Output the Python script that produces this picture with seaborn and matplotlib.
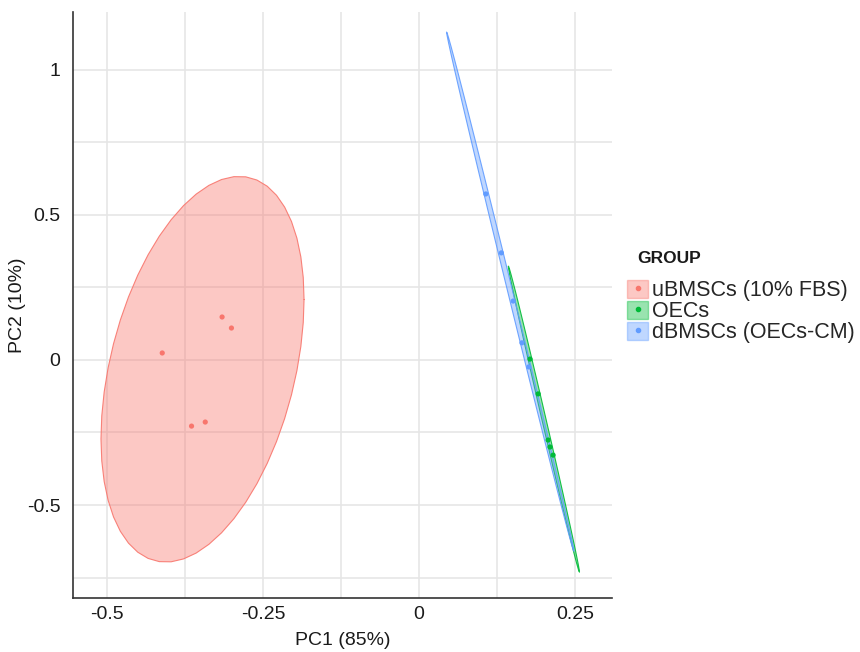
import matplotlib
matplotlib.use("Agg")
import matplotlib.pyplot as plt
import seaborn as sns
import pandas as pd
import numpy as np
from matplotlib.patches import Patch
from matplotlib.lines import Line2D
from matplotlib.ticker import MultipleLocator

# PCA scores
groups = ["uBMSCs (10% FBS)", "OECs", "dBMSCs (OECs-CM)"]
colors = ["#F8766D", "#00BA38", "#619CFF"]

pc1_ubmsc = [-0.316, -0.301, -0.412, -0.365, -0.343]
pc2_ubmsc = [0.148, 0.110, 0.024, -0.228, -0.214]

pc1_oec = [0.178, 0.191, 0.207, 0.210, 0.215]
pc2_oec = [0.003, -0.117, -0.276, -0.300, -0.328]

pc1_dbmsc = [0.107, 0.132, 0.151, 0.165, 0.176]
pc2_dbmsc = [0.572, 0.369, 0.203, 0.059, -0.024]

df = pd.DataFrame({
    "PC1": pc1_ubmsc + pc1_oec + pc1_dbmsc,
    "PC2": pc2_ubmsc + pc2_oec + pc2_dbmsc,
    "GROUP": [groups[0]] * 5 + [groups[1]] * 5 + [groups[2]] * 5,
})


def ellipse_points(x, y, level=0.95, segments=51):
    # 95% normal ellipse per group, as in stat_ellipse(type = "norm")
    pts = np.column_stack([x, y])
    n = len(pts)
    center = pts.mean(axis=0)
    cov = np.cov(pts, rowvar=False)
    d2 = n - 1
    fq = (d2 / 2) * ((1 - level) ** (-2 / d2) - 1)  # F(2, d2) quantile
    radius = np.sqrt(2 * fq)
    t = np.linspace(0, 2 * np.pi, segments)
    circle = np.column_stack([np.cos(t), np.sin(t)])
    chol = np.linalg.cholesky(cov)
    return center + radius * circle @ chol.T


sns.set_theme(style="white")
plt.rcParams["font.family"] = ["Liberation Sans", "DejaVu Sans"]

fig = plt.figure(figsize=(8.6, 6.52), dpi=100)
ax = fig.add_axes([0.085, 0.083, 0.627, 0.899])

for g, c in zip(groups, colors):
    sub = df[df["GROUP"] == g]
    e = ellipse_points(sub["PC1"].values, sub["PC2"].values)
    ax.fill(e[:, 0], e[:, 1], facecolor=c, alpha=0.4, edgecolor="none", zorder=2)
    ax.plot(e[:, 0], e[:, 1], color=c, lw=0.8, alpha=0.9, zorder=2)

sns.scatterplot(data=df, x="PC1", y="PC2", hue="GROUP", palette=colors,
                s=14, edgecolor="none", legend=False, ax=ax, zorder=3)

ax.set_xlim(-0.555, 0.31)
ax.set_ylim(-0.82, 1.2)
ax.xaxis.set_minor_locator(MultipleLocator(0.125))
ax.yaxis.set_minor_locator(MultipleLocator(0.25))
ax.set_xticks([-0.5, -0.25, 0, 0.25])
ax.set_xticklabels(["-0.5", "-0.25", "0", "0.25"])
ax.set_yticks([-0.5, 0, 0.5, 1])
ax.set_yticklabels(["-0.5", "0", "0.5", "1"])
ax.grid(which="major", color="#E6E6E6", lw=1.2, zorder=0)
ax.grid(which="minor", color="#E6E6E6", lw=1.2, zorder=0)
ax.set_axisbelow(True)
ax.tick_params(axis="both", which="both", length=0, labelsize=14, labelcolor="#1a1a1a")
ax.tick_params(axis="x", pad=6)
ax.tick_params(axis="y", pad=9)

for side in ["top", "right"]:
    ax.spines[side].set_visible(False)
for side in ["left", "bottom"]:
    ax.spines[side].set_color("#333333")
    ax.spines[side].set_linewidth(1.2)

ax.set_xlabel("PC1 (85%)", fontsize=14, color="#1a1a1a")
ax.set_ylabel("PC2 (10%)", fontsize=14, color="#1a1a1a")
ax.xaxis.set_label_coords(0.5, -0.058)
ax.yaxis.set_label_coords(-0.088, 0.5)

handles = [(Patch(facecolor=c, edgecolor=c, alpha=0.4),
            Line2D([], [], marker="o", ls="none", color=c, markersize=3))
           for c in colors]
fig.text(0.741, 0.604, "GROUP", fontsize=12.5, fontweight="bold",
         color="#1a1a1a", va="center", ha="left")
fig.legend(handles, groups, loc="upper left",
           bbox_to_anchor=(0.729, 0.5713), frameon=False,
           fontsize=15.5, handlelength=1.0, handleheight=0.95, handletextpad=0.15,
           labelspacing=-0.03, borderaxespad=0, borderpad=0)

fig.savefig("out.png", dpi=100)
